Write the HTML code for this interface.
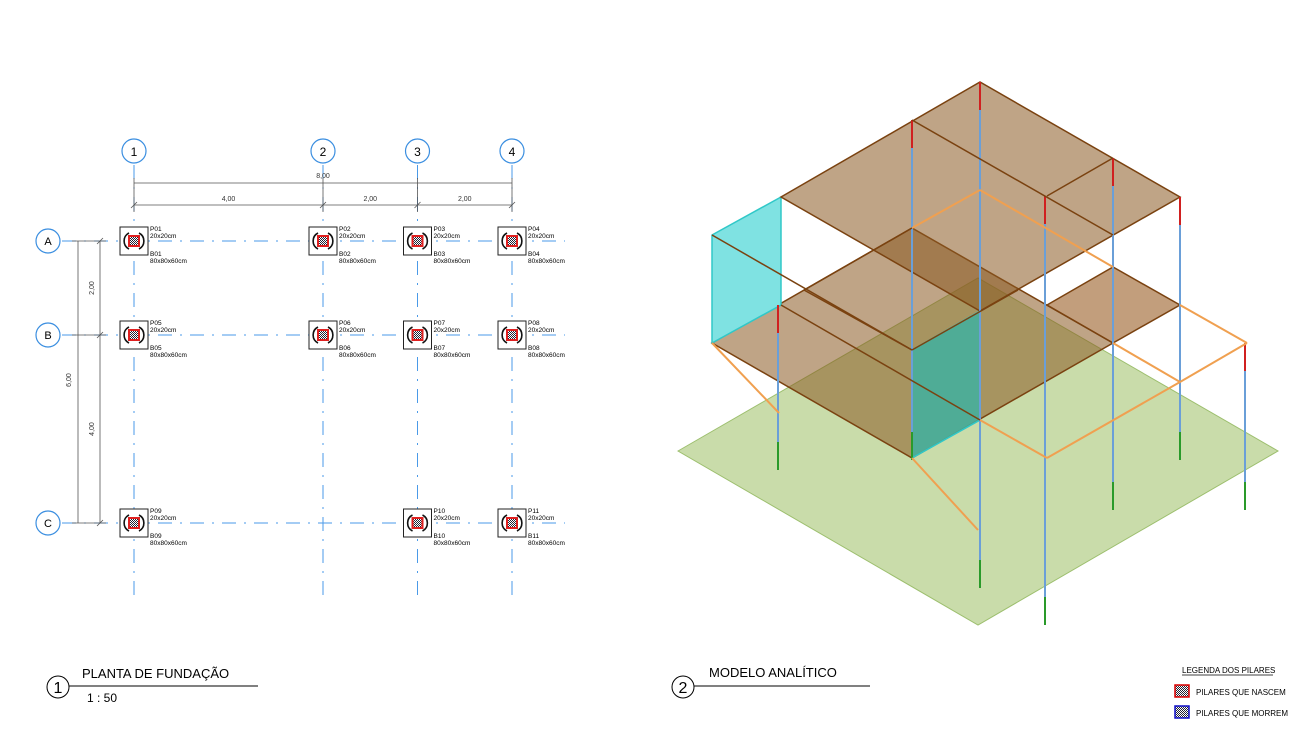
<!DOCTYPE html>
<html><head><meta charset="utf-8"><style>
html,body{margin:0;padding:0;background:#fff;width:1302px;height:735px;overflow:hidden}
svg{display:block;font-family:"Liberation Sans",sans-serif}
</style></head><body>
<svg id="s" width="1302" height="735" viewBox="0 0 1302 735" xmlns="http://www.w3.org/2000/svg">
<defs>
<pattern id="chk" width="2" height="2" patternUnits="userSpaceOnUse"><rect width="2" height="2" fill="#fff"/><rect width="1" height="1" fill="#223"/><rect x="1" y="1" width="1" height="1" fill="#223"/></pattern>
</defs>
<g id="plan"></g>
<g id="model">
  <polygon points="678,451 978,278 1278,451 978,625" fill="#c9dcaa" stroke="#9dbf6e" stroke-width="1"/>
  <polygon points="712,343 912,228 1113,343 912,458" fill="#8a5a22" fill-opacity="0.55" stroke="#7a4210" stroke-width="1.5"/>
  <polygon points="1047,305 1113,267 1180,305 1113,343" fill="#a26a36" fill-opacity="0.65" stroke="#7a4210" stroke-width="1.5"/>
  <polygon points="912,350 980,311 980,420 912,458" fill="#3fb0a0" fill-opacity="0.85" stroke="#30c8c8" stroke-width="1.5"/>
  <polygon points="712,235 781,197 781,305 712,343" fill="#7fe2e2" stroke="#30c8c8" stroke-width="1.5"/>
  <polygon points="781,197 980,82 1180,197 980,311" fill="#8a5a22" fill-opacity="0.55" stroke="#7a4210" stroke-width="1.5"/>
  <g id="frame"></g>
  <g stroke="#7a4210" stroke-width="1.5" fill="none">
    <line x1="912" y1="120" x2="1113" y2="235"/><line x1="1047" y1="196" x2="1113" y2="158"/>
    <line x1="712" y1="235" x2="912" y2="350"/><line x1="781" y1="305" x2="980" y2="420"/>
    <line x1="804" y1="290" x2="912" y2="228"/><line x1="804" y1="290" x2="912" y2="350"/>
    <line x1="912" y1="350" x2="1018" y2="290"/>
  </g>
</g>
<g>
  <circle cx="58" cy="687" r="11" fill="none" stroke="#000"/>
  <text x="58" y="693" font-size="16" text-anchor="middle">1</text>
  <line x1="69" y1="686" x2="258" y2="686" stroke="#000"/>
  <text x="82" y="678" font-size="13">PLANTA DE FUNDAÇÃO</text>
  <text x="87" y="702" font-size="12">1 : 50</text>
</g>
<g>
  <circle cx="683" cy="687" r="11" fill="none" stroke="#000"/>
  <text x="683" y="693" font-size="16" text-anchor="middle">2</text>
  <line x1="694" y1="686" x2="870" y2="686" stroke="#000"/>
  <text x="709" y="677" font-size="13">MODELO ANALÍTICO</text>
</g>
<g font-size="8">
  <text x="1182" y="673">LEGENDA DOS PILARES</text>
  <line x1="1182" y1="675" x2="1273" y2="675" stroke="#000" stroke-width="0.7"/>
  <rect x="1175" y="685" width="14" height="12" fill="url(#chk)" stroke="#d00" stroke-width="1.5"/>
  <text x="1196" y="695">PILARES QUE NASCEM</text>
  <rect x="1175" y="706" width="14" height="12" fill="url(#chk)" stroke="#11c" stroke-width="1.5"/>
  <text x="1196" y="716">PILARES QUE MORREM</text>
</g>
</svg>
<script>
const colNames=["1","2","3","4"];
const colMeters=[0,4,6,8];
const rowNames=["A","B","C"];
const rowMeters=[0,2,6];
const pillars=[["P01","B01",0,0],["P02","B02",1,0],["P03","B03",2,0],["P04","B04",3,0],["P05","B05",0,1],["P06","B06",1,1],["P07","B07",2,1],["P08","B08",3,1],["P09","B09",0,2],["P10","B10",2,2],["P11","B11",3,2]];
const NS="http://www.w3.org/2000/svg";
const plan=document.getElementById('plan');
const sx=m=>134+m*47.25, sy=m=>241+m*47;
function mk(tag,at,parent,txt){const e=document.createElementNS(NS,tag);for(const k in at)e.setAttribute(k,at[k]);if(txt!==undefined)e.textContent=txt;(parent||plan).appendChild(e);return e;}
const dash="14 8 2 8";
colMeters.forEach((m,i)=>{const x=sx(m);
 const l=mk('line',{x1:x,y1:165,x2:x,y2:600,stroke:'#4a9ae8','stroke-width':1,'stroke-dasharray':dash});
 
 
 const c=mk('circle',{cx:x,cy:151,r:12,fill:'#fff',stroke:'#3a8ee0','stroke-width':1.2});
 
 
 mk('text',{x:x,y:156,'font-size':12,'text-anchor':'middle'},plan,colNames[i]);
});
rowMeters.forEach((m,i)=>{const y=sy(m);
 const l=mk('line',{x1:62,y1:y,x2:565,y2:y,stroke:'#4a9ae8','stroke-width':1,'stroke-dasharray':dash});
 
 
 const c=mk('circle',{cx:48,cy:y,r:12,fill:'#fff',stroke:'#3a8ee0','stroke-width':1.2});
 
 
 mk('text',{x:48,y:y+4,'font-size':11,'text-anchor':'middle'},plan,rowNames[i]);
});
function fmt(v){return v.toFixed(2).replace('.',',');}
const dimG=mk('g',{stroke:'#555','stroke-width':0.8,'font-size':7});


mk('line',{x1:sx(0),y1:183,x2:sx(8),y2:183},dimG);
mk('text',{x:sx(4),y:178,'text-anchor':'middle',stroke:'none',fill:'#333'},dimG,fmt(8));
mk('line',{x1:sx(0),y1:205,x2:sx(8),y2:205},dimG);
colMeters.forEach((m,i)=>{const x=sx(m);mk('line',{x1:x,y1:178,x2:x,y2:212},dimG);mk('line',{x1:x-3,y1:208,x2:x+3,y2:202},dimG);
 if(i>0){mk('text',{x:(sx(colMeters[i-1])+x)/2,y:201,'text-anchor':'middle',stroke:'none',fill:'#333'},dimG,fmt(m-colMeters[i-1]));}});
mk('line',{x1:78,y1:sy(0),x2:78,y2:sy(6)},dimG);
mk('line',{x1:100,y1:sy(0),x2:100,y2:sy(6)},dimG);
rowMeters.forEach((m,i)=>{const y=sy(m);mk('line',{x1:72,y1:y,x2:106,y2:y},dimG);mk('line',{x1:97,y1:y+3,x2:103,y2:y-3},dimG);
 if(i>0){const yy=(sy(rowMeters[i-1])+y)/2;mk('text',{x:94,y:yy,'text-anchor':'middle',stroke:'none',fill:'#333',transform:`rotate(-90 94 ${yy})`},dimG,fmt(m-rowMeters[i-1]));}});
mk('text',{x:71,y:380,'text-anchor':'middle',stroke:'none',fill:'#333',transform:'rotate(-90 71 380)'},dimG,fmt(6));
pillars.forEach(p=>{const x=sx(colMeters[p[2]]),y=sy(rowMeters[p[3]]);
 const g=mk('g',{});
 
 
 mk('rect',{x:x-14,y:y-14,width:28,height:28,fill:'#fff',stroke:'#222','stroke-width':1},g);
 mk('path',{d:`M${x-5},${y-8} A9,9 0 0 0 ${x-5},${y+8} M${x+5},${y-8} A9,9 0 0 1 ${x+5},${y+8}`,fill:'none',stroke:'#111','stroke-width':1.6},g);
 mk('rect',{x:x-5,y:y-5,width:10,height:10,fill:'url(#chk)',stroke:'#e02020','stroke-width':2},g);
 mk('text',{x:x+16,y:y-10,'font-size':6.5},g,p[0]);
 mk('text',{x:x+16,y:y-3,'font-size':6.5},g,'20x20cm');
 mk('text',{x:x+16,y:y+15,'font-size':6.5},g,p[1]);
 mk('text',{x:x+16,y:y+22,'font-size':6.5},g,'80x80x60cm');
});
const frame=document.getElementById('frame');
const columns=[[778,305,470],[912,120,460],[980,82,588],[1045,196,625],[1113,158,510],[1180,197,460],[1245,343,510]];
columns.forEach(c=>{
 const g=mk('g',{},frame);
 
 
 mk('line',{x1:c[0],y1:c[1],x2:c[0],y2:c[2],stroke:'#6a9fd8','stroke-width':2},g);
 mk('line',{x1:c[0],y1:c[1],x2:c[0],y2:c[1]+28,stroke:'#d02020','stroke-width':2},g);
 mk('line',{x1:c[0],y1:c[2]-28,x2:c[0],y2:c[2],stroke:'#2a9a2a','stroke-width':2},g);
});
const beams=[[1113,343,1180,382],[1180,305,1247,343],[1247,343,1180,382],[1180,382,1047,458],[980,420,1047,458],[712,343,779,413],[912,458,978,530],[980,190,912,228],[980,190,1113,267]];
beams.forEach(b=>{const l=mk('line',{x1:b[0],y1:b[1],x2:b[2],y2:b[3],stroke:'#f0a050','stroke-width':2},frame);
 
 });
</script>
</body></html>
